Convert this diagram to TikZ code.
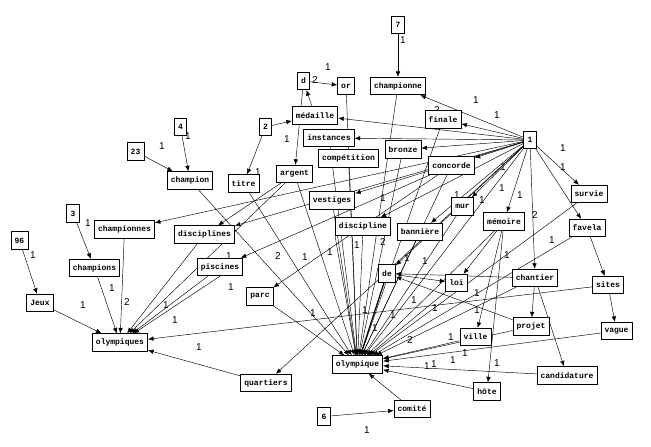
\documentclass[tikz,border=0pt]{standalone}
\usepackage{fontspec}
\setmonofont{Liberation Mono}
\newfontfamily\lblfont{Liberation Sans}
\usetikzlibrary{arrows.meta}
\pgfdeclarelayer{bg}
\pgfsetlayers{bg,main}
\begin{document}
\begin{tikzpicture}[x=1pt,y=-1pt,
  box/.style={draw,line width=0.8pt,fill=white,font=\ttfamily\bfseries\fontsize{8}{9}\selectfont,inner xsep=3.6pt,inner ysep=0pt,minimum height=17.5pt,minimum width=12.5pt},
  e/.style={draw,line width=0.45pt,-{Latex[length=5.5pt,width=4.5pt]}},
  lbl/.style={font=\lblfont\fontsize{10}{10}\selectfont,inner sep=0pt}]
\useasboundingbox (0,0) rectangle (651,447);
% nodes
\node[box] (n7) at (398,25) {7};
\node[box] (d) at (303.5,81) {d};
\node[box] (or) at (346,86) {or};
\node[box] (championne) at (398,86) {championne};
\node[box] (medaille) at (315,115.5) {médaille};
\node[box] (n2) at (265.5,127) {2};
\node[box] (finale) at (443,119.5) {finale};
\node[box] (n4) at (180.5,127) {4};
\node[box] (instances) at (329,138) {instances};
\node[box] (n1) at (530,140) {1};
\node[box] (bronze) at (403,149.5) {bronze};
\node[box] (n23) at (135.5,151.5) {23};
\node[box] (competition) at (348.5,158.5) {compétition};
\node[box] (concorde) at (451.5,165.5) {concorde};
\node[box] (champion) at (190,180.5) {champion};
\node[box] (titre) at (243.5,183.5) {titre};
\node[box] (argent) at (294.5,174) {argent};
\node[box] (vestiges) at (332,200.5) {vestiges};
\node[box] (survie) at (589,194) {survie};
\node[box] (mur) at (462.5,206.5) {mur};
\node[box] (n3) at (73,213.5) {3};
\node[box] (championnes) at (124.5,229.5) {championnes};
\node[box] (disciplines) at (204.5,234.5) {disciplines};
\node[box] (discipline) at (363,226.5) {discipline};
\node[box] (banniere) at (420,232) {bannière};
\node[box] (memoire) at (504,221.5) {mémoire};
\node[box] (favela) at (587,228) {favela};
\node[box] (n96) at (19.5,240.5) {96};
\node[box] (champions) at (94.5,268) {champions};
\node[box] (piscines) at (220,267) {piscines};
\node[box] (de) at (387,273.5) {de};
\node[box] (loi) at (456.5,283) {loi};
\node[box] (chantier) at (535,278) {chantier};
\node[box] (sites) at (608,285) {sites};
\node[box] (parc) at (260,296.5) {parc};
\node[box] (jeux) at (40,303) {Jeux};
\node[box] (olympiques) at (120,342.5) {olympiques};
\node[box] (projet) at (531,326.5) {projet};
\node[box] (vague) at (616.5,331) {vague};
\node[box] (ville) at (475.5,337) {ville};
\node[box] (olympique) at (357.5,364.5) {olympique};
\node[box] (quartiers) at (266,383) {quartiers};
\node[box] (candidature) at (567,375.5) {candidature};
\node[box] (hote) at (487,391.5) {hôte};
\node[box] (n6) at (324,416.5) {6};
\node[box] (comite) at (412,409) {comité};
\begin{pgfonlayer}{bg}
\fill[white] (0,0) rectangle (651,447);
% top part
\draw[e] (n7) -- (championne) node[lbl] at (403,40) {1};
\draw[e] (d) -- (or) node[lbl] at (315,80) {2} node[lbl] at (328,67) {1};
\draw[e] (medaille) -- (d);
\draw[e] (d) -- (argent);
\draw[e] (n2) -- (medaille) node[lbl] at (287,139) {1};
\draw[e] (n2) -- (titre) node[lbl] at (258,172) {1};
\draw[e] (n4) -- (champion) node[lbl] at (188,136) {1};
\draw[e] (n23) -- (champion) node[lbl] at (162,146) {1};
\draw[e] (n3) -- (champions) node[lbl] at (88,223) {1};
\draw[e] (n96) -- (jeux) node[lbl] at (33,255) {1};
% into olympiques
\draw[e] (jeux) -- (olympiques) node[lbl] at (83,305) {1};
\draw[e] (champions) -- (olympiques) node[lbl] at (112,288) {1};
\draw[e] (championnes) -- (olympiques) node[lbl] at (127,302) {2};
\draw[e] (disciplines) -- (olympiques) node[lbl] at (166,305) {1};
\draw[e] (piscines) -- (olympiques) node[lbl] at (231,287) {1};
\draw[e] (piscines.south) -- (olympiques);
\draw[e] (argent) -- (olympiques);
\draw[e] (sites) -- (olympiques) node[lbl] at (175,320) {1};
\draw[e] (quartiers) -- (olympiques) node[lbl] at (199,347) {1};
% from hub 1
\draw[e] (n1) -- (championne) node[lbl] at (476,100) {1};
\draw[e] (n1) -- (finale) node[lbl] at (497,115) {1};
\draw[e] (n1) -- (medaille) node[lbl] at (437,110) {2};
\draw[e] (n1) -- (instances);
\draw[e] (n1) -- (bronze);
\draw[e] (n1) -- (concorde);
\draw[e] (n1) -- (vestiges) node[lbl] at (503,167) {1};
\draw[e] (n1) -- (championnes);
\draw[e] (n1) -- (disciplines);
\draw[e] (n1) -- (mur) node[lbl] at (482,200) {1};
\draw[e] (n1) -- (discipline) node[lbl] at (383,198) {1};
\draw[e] (n1) -- (banniere) node[lbl] at (457,195) {1};
\draw[e] (n1) -- (de) node[lbl] at (414,300) {1};
\draw[e] (n1) -- (memoire) node[lbl] at (502,188) {1};
\draw[e] (n1) -- (chantier) node[lbl] at (535,215) {2};
\draw[e] (n1) -- (survie) node[lbl] at (563,148) {1};
\draw[e] (n1) -- (favela) node[lbl] at (563,167) {1};
\draw[e] (n1) -- (olympique) node[lbl] at (520,195) {1};
\draw[e] (n1) -- (quartiers);
% middle
\draw[e] (argent) -- (disciplines);
\draw[e] (concorde) -- (piscines) node[lbl] at (229,256) {1};
\draw[e] (concorde) -- (parc);
\draw[e] (de) -- (loi);
\draw[e] (projet) -- (de) node[lbl] at (477,310) {1};
\draw[e] (chantier) -- (de) node[lbl] at (477,293) {1};
\draw[e] (memoire) -- (loi);
\draw[e] (memoire) -- (ville) node[lbl] at (507,255) {1};
\draw[e] (memoire) -- (hote) node[lbl] at (497,363) {1};
\draw[e] (chantier) -- (projet);
\draw[e] (chantier) -- (candidature);
\draw[e] (favela) -- (sites);
\draw[e] (sites) -- (vague);
% into olympique
\draw[e] (titre) -- (olympique) node[lbl] at (278,256) {2};
\draw[e] (champion) -- (olympique) node[lbl] at (305,257) {1};
\draw[e] (argent) -- (olympique) node[lbl] at (330,252) {1};
\draw[e] (instances) -- (olympique) node[lbl] at (357,245) {1};
\draw[e] (competition) -- (olympique);
\draw[e] (or) -- (olympique);
\draw[e] (championne) -- (olympique);
\draw[e] (bronze) -- (olympique);
\draw[e] (vestiges) -- (olympique);
\draw[e] (discipline) -- (olympique) node[lbl] at (383,242) {2};
\draw[e] (discipline.south west) -- (olympique);
\draw[e] (banniere) -- (olympique) node[lbl] at (407,258) {1};
\draw[e] (mur) -- (olympique) node[lbl] at (425,261) {1};
\draw[e] (concorde) -- (olympique);
\draw[e] (finale) -- (olympique);
\draw[e,line width=1.2pt] (de) -- (olympique) node[lbl] at (365,310) {1};
\draw[e] (loi) -- (olympique) node[lbl] at (393,315) {1};
\draw[e] (memoire) -- (olympique);
\draw[e] (parc) -- (olympique) node[lbl] at (313,313) {1};
\draw[e] (chantier) -- (olympique) node[lbl] at (375,328) {1};
\draw[e] (favela) -- (olympique) node[lbl] at (435,308) {1} node[lbl] at (552,240) {1};
\draw[e] (survie) -- (olympique);
\draw[e] (projet) -- (olympique) node[lbl] at (410,340) {2};
\draw[e] (ville) -- (olympique) node[lbl] at (451,337) {1};
\draw[e] (vague) -- (olympique) node[lbl] at (465,353) {1};
\draw[e] (candidature) -- (olympique) node[lbl] at (427,366) {1} node[lbl] at (453,360) {1};
\draw[e] (hote) -- (olympique) node[lbl] at (434,364) {1};
\draw[e] (comite) -- (olympique);
\draw[e] (n6) -- (comite) node[lbl] at (367,430) {1};
\end{pgfonlayer}
\end{tikzpicture}
\end{document}
